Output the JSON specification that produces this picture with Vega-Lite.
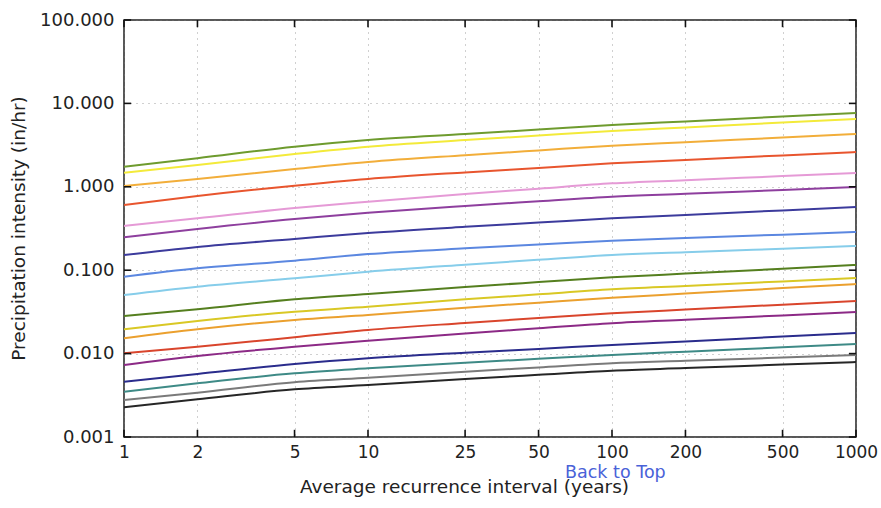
{
  "$schema": "https://vega.github.io/schema/vega-lite/v6.json",
  "width": 732,
  "height": 417,
  "autosize": {"type": "none"},
  "padding": {"left": 124, "top": 20, "right": 25, "bottom": 71},
  "background": "white",
  "config": {
    "view": {"stroke": "#222", "strokeWidth": 1.5},
    "font": "DejaVu Sans",
    "axis": {"labelFont": "DejaVu Sans", "titleFont": "DejaVu Sans"}
  },
  "title": {
    "text": "Back to Top",
    "orient": "bottom",
    "anchor": "start",
    "frame": "group",
    "dx": 441,
    "offset": -32,
    "fontSize": 17.5,
    "fontWeight": "normal",
    "color": "#4a62d8",
    "font": "DejaVu Sans"
  },
  "datasets": {
    "curves": [
      {"d": "5-min", "t": 1, "v": 1.74}, {"d": "5-min", "t": 2, "v": 2.2}, {"d": "5-min", "t": 5, "v": 3.03}, {"d": "5-min", "t": 10, "v": 3.64}, {"d": "5-min", "t": 25, "v": 4.3}, {"d": "5-min", "t": 50, "v": 4.86}, {"d": "5-min", "t": 100, "v": 5.51}, {"d": "5-min", "t": 200, "v": 6.08}, {"d": "5-min", "t": 500, "v": 6.95}, {"d": "5-min", "t": 1000, "v": 7.67},
      {"d": "10-min", "t": 1, "v": 1.476}, {"d": "10-min", "t": 2, "v": 1.826}, {"d": "10-min", "t": 5, "v": 2.474}, {"d": "10-min", "t": 10, "v": 3.026}, {"d": "10-min", "t": 25, "v": 3.631}, {"d": "10-min", "t": 50, "v": 4.124}, {"d": "10-min", "t": 100, "v": 4.669}, {"d": "10-min", "t": 200, "v": 5.157}, {"d": "10-min", "t": 500, "v": 5.886}, {"d": "10-min", "t": 1000, "v": 6.501},
      {"d": "15-min", "t": 1, "v": 1.023}, {"d": "15-min", "t": 2, "v": 1.24}, {"d": "15-min", "t": 5, "v": 1.635}, {"d": "15-min", "t": 10, "v": 1.983}, {"d": "15-min", "t": 25, "v": 2.393}, {"d": "15-min", "t": 50, "v": 2.732}, {"d": "15-min", "t": 100, "v": 3.111}, {"d": "15-min", "t": 200, "v": 3.426}, {"d": "15-min", "t": 500, "v": 3.901}, {"d": "15-min", "t": 1000, "v": 4.297},
      {"d": "30-min", "t": 1, "v": 0.605}, {"d": "30-min", "t": 2, "v": 0.776}, {"d": "30-min", "t": 5, "v": 1.031}, {"d": "30-min", "t": 10, "v": 1.24}, {"d": "30-min", "t": 25, "v": 1.488}, {"d": "30-min", "t": 50, "v": 1.685}, {"d": "30-min", "t": 100, "v": 1.913}, {"d": "30-min", "t": 200, "v": 2.102}, {"d": "30-min", "t": 500, "v": 2.38}, {"d": "30-min", "t": 1000, "v": 2.614},
      {"d": "60-min", "t": 1, "v": 0.339}, {"d": "60-min", "t": 2, "v": 0.419}, {"d": "60-min", "t": 5, "v": 0.557}, {"d": "60-min", "t": 10, "v": 0.663}, {"d": "60-min", "t": 25, "v": 0.82}, {"d": "60-min", "t": 50, "v": 0.949}, {"d": "60-min", "t": 100, "v": 1.102}, {"d": "60-min", "t": 200, "v": 1.2}, {"d": "60-min", "t": 500, "v": 1.344}, {"d": "60-min", "t": 1000, "v": 1.464},
      {"d": "2-hr", "t": 1, "v": 0.248}, {"d": "2-hr", "t": 2, "v": 0.312}, {"d": "2-hr", "t": 5, "v": 0.411}, {"d": "2-hr", "t": 10, "v": 0.489}, {"d": "2-hr", "t": 25, "v": 0.589}, {"d": "2-hr", "t": 50, "v": 0.67}, {"d": "2-hr", "t": 100, "v": 0.761}, {"d": "2-hr", "t": 200, "v": 0.824}, {"d": "2-hr", "t": 500, "v": 0.918}, {"d": "2-hr", "t": 1000, "v": 0.995},
      {"d": "3-hr", "t": 1, "v": 0.152}, {"d": "3-hr", "t": 2, "v": 0.19}, {"d": "3-hr", "t": 5, "v": 0.237}, {"d": "3-hr", "t": 10, "v": 0.279}, {"d": "3-hr", "t": 25, "v": 0.331}, {"d": "3-hr", "t": 50, "v": 0.372}, {"d": "3-hr", "t": 100, "v": 0.419}, {"d": "3-hr", "t": 200, "v": 0.46}, {"d": "3-hr", "t": 500, "v": 0.521}, {"d": "3-hr", "t": 1000, "v": 0.573},
      {"d": "6-hr", "t": 1, "v": 0.0836}, {"d": "6-hr", "t": 2, "v": 0.1054}, {"d": "6-hr", "t": 5, "v": 0.13}, {"d": "6-hr", "t": 10, "v": 0.156}, {"d": "6-hr", "t": 25, "v": 0.183}, {"d": "6-hr", "t": 50, "v": 0.203}, {"d": "6-hr", "t": 100, "v": 0.226}, {"d": "6-hr", "t": 200, "v": 0.243}, {"d": "6-hr", "t": 500, "v": 0.267}, {"d": "6-hr", "t": 1000, "v": 0.287},
      {"d": "12-hr", "t": 1, "v": 0.0504}, {"d": "12-hr", "t": 2, "v": 0.0634}, {"d": "12-hr", "t": 5, "v": 0.08}, {"d": "12-hr", "t": 10, "v": 0.096}, {"d": "12-hr", "t": 25, "v": 0.1164}, {"d": "12-hr", "t": 50, "v": 0.1333}, {"d": "12-hr", "t": 100, "v": 0.152}, {"d": "12-hr", "t": 200, "v": 0.164}, {"d": "12-hr", "t": 500, "v": 0.181}, {"d": "12-hr", "t": 1000, "v": 0.195},
      {"d": "24-hr", "t": 1, "v": 0.0282}, {"d": "24-hr", "t": 2, "v": 0.034}, {"d": "24-hr", "t": 5, "v": 0.0448}, {"d": "24-hr", "t": 10, "v": 0.0518}, {"d": "24-hr", "t": 25, "v": 0.0629}, {"d": "24-hr", "t": 50, "v": 0.072}, {"d": "24-hr", "t": 100, "v": 0.0822}, {"d": "24-hr", "t": 200, "v": 0.0911}, {"d": "24-hr", "t": 500, "v": 0.1042}, {"d": "24-hr", "t": 1000, "v": 0.1155},
      {"d": "2-day", "t": 1, "v": 0.01957}, {"d": "2-day", "t": 2, "v": 0.0246}, {"d": "2-day", "t": 5, "v": 0.0318}, {"d": "2-day", "t": 10, "v": 0.0365}, {"d": "2-day", "t": 25, "v": 0.0447}, {"d": "2-day", "t": 50, "v": 0.0514}, {"d": "2-day", "t": 100, "v": 0.059}, {"d": "2-day", "t": 200, "v": 0.0648}, {"d": "2-day", "t": 500, "v": 0.0734}, {"d": "2-day", "t": 1000, "v": 0.0807},
      {"d": "3-day", "t": 1, "v": 0.01527}, {"d": "3-day", "t": 2, "v": 0.01957}, {"d": "3-day", "t": 5, "v": 0.0253}, {"d": "3-day", "t": 10, "v": 0.029}, {"d": "3-day", "t": 25, "v": 0.0355}, {"d": "3-day", "t": 50, "v": 0.0408}, {"d": "3-day", "t": 100, "v": 0.0468}, {"d": "3-day", "t": 200, "v": 0.0524}, {"d": "3-day", "t": 500, "v": 0.061}, {"d": "3-day", "t": 1000, "v": 0.0683},
      {"d": "4-day", "t": 1, "v": 0.01009}, {"d": "4-day", "t": 2, "v": 0.0121}, {"d": "4-day", "t": 5, "v": 0.01569}, {"d": "4-day", "t": 10, "v": 0.01919}, {"d": "4-day", "t": 25, "v": 0.0233}, {"d": "4-day", "t": 50, "v": 0.0267}, {"d": "4-day", "t": 100, "v": 0.0304}, {"d": "4-day", "t": 200, "v": 0.0337}, {"d": "4-day", "t": 500, "v": 0.0386}, {"d": "4-day", "t": 1000, "v": 0.0427},
      {"d": "7-day", "t": 1, "v": 0.0073}, {"d": "7-day", "t": 2, "v": 0.00936}, {"d": "7-day", "t": 5, "v": 0.0121}, {"d": "7-day", "t": 10, "v": 0.01428}, {"d": "7-day", "t": 25, "v": 0.01747}, {"d": "7-day", "t": 50, "v": 0.0201}, {"d": "7-day", "t": 100, "v": 0.0231}, {"d": "7-day", "t": 200, "v": 0.0254}, {"d": "7-day", "t": 500, "v": 0.0287}, {"d": "7-day", "t": 1000, "v": 0.0315},
      {"d": "10-day", "t": 1, "v": 0.0046}, {"d": "10-day", "t": 2, "v": 0.00569}, {"d": "10-day", "t": 5, "v": 0.0075}, {"d": "10-day", "t": 10, "v": 0.00879}, {"d": "10-day", "t": 25, "v": 0.01025}, {"d": "10-day", "t": 50, "v": 0.01139}, {"d": "10-day", "t": 100, "v": 0.01269}, {"d": "10-day", "t": 200, "v": 0.01401}, {"d": "10-day", "t": 500, "v": 0.016}, {"d": "10-day", "t": 1000, "v": 0.01767},
      {"d": "20-day", "t": 1, "v": 0.00349}, {"d": "20-day", "t": 2, "v": 0.00441}, {"d": "20-day", "t": 5, "v": 0.0058}, {"d": "20-day", "t": 10, "v": 0.00666}, {"d": "20-day", "t": 25, "v": 0.00778}, {"d": "20-day", "t": 50, "v": 0.00865}, {"d": "20-day", "t": 100, "v": 0.00962}, {"d": "20-day", "t": 200, "v": 0.01054}, {"d": "20-day", "t": 500, "v": 0.0119}, {"d": "20-day", "t": 1000, "v": 0.01304},
      {"d": "30-day", "t": 1, "v": 0.00278}, {"d": "30-day", "t": 2, "v": 0.0034}, {"d": "30-day", "t": 5, "v": 0.00453}, {"d": "30-day", "t": 10, "v": 0.00514}, {"d": "30-day", "t": 25, "v": 0.00607}, {"d": "30-day", "t": 50, "v": 0.00682}, {"d": "30-day", "t": 100, "v": 0.00766}, {"d": "30-day", "t": 200, "v": 0.0082}, {"d": "30-day", "t": 500, "v": 0.00898}, {"d": "30-day", "t": 1000, "v": 0.00962},
      {"d": "45-day", "t": 1, "v": 0.00227}, {"d": "45-day", "t": 2, "v": 0.00283}, {"d": "45-day", "t": 5, "v": 0.00373}, {"d": "45-day", "t": 10, "v": 0.0042}, {"d": "45-day", "t": 25, "v": 0.00496}, {"d": "45-day", "t": 50, "v": 0.00557}, {"d": "45-day", "t": 100, "v": 0.00624}, {"d": "45-day", "t": 200, "v": 0.0067}, {"d": "45-day", "t": 500, "v": 0.00738}, {"d": "45-day", "t": 1000, "v": 0.00793}
    ],
    "xticks": [{"t": 1}, {"t": 2}, {"t": 5}, {"t": 10}, {"t": 25}, {"t": 50}, {"t": 100}, {"t": 200}, {"t": 500}, {"t": 1000}],
    "yticks": [{"v": 0.001}, {"v": 0.01}, {"v": 0.1}, {"v": 1}, {"v": 10}, {"v": 100}]
  },
  "layer": [
    {
      "data": {"name": "curves"},
      "mark": {"type": "line", "strokeWidth": 2, "clip": true, "interpolate": "monotone"},
      "encoding": {
        "x": {
          "field": "t", "type": "quantitative",
          "scale": {"type": "log", "domain": [1, 1000]},
          "axis": {
            "orient": "bottom",
            "values": [1, 2, 5, 10, 25, 50, 100, 200, 500, 1000],
            "format": "d",
            "title": "Average recurrence interval (years)",
            "grid": true, "gridDash": [1, 5], "gridColor": "#777", "gridOpacity": 0.7,
            "domain": false,
            "ticks": false,
            "labelFontSize": 17, "labelColor": "#222", "labelPadding": 20,
            "labelBaseline": "alphabetic", "labelFlush": false, "labelOverlap": false,
            "titleFontSize": 18.5, "titleFontWeight": "normal", "titleColor": "#222",
            "titleX": 340, "titleY": 55, "titleBaseline": "alphabetic", "titleAlign": "center"
          }
        },
        "y": {
          "field": "v", "type": "quantitative",
          "scale": {"type": "log", "domain": [0.001, 100]},
          "axis": {
            "orient": "left",
            "values": [0.001, 0.01, 0.1, 1, 10, 100],
            "format": ".3f",
            "title": "Precipitation intensity (in/hr)",
            "grid": true, "gridDash": [1, 5], "gridColor": "#777", "gridOpacity": 0.7,
            "domain": false,
            "ticks": false,
            "labelFontSize": 18, "labelColor": "#222", "labelPadding": 10,
            "labelFlush": false, "labelOverlap": false,
            "titleFontSize": 18.5, "titleFontWeight": "normal", "titleColor": "#222",
            "titleX": -106, "titleY": 208, "titleBaseline": "middle", "titleAngle": -90, "titleAlign": "center"
          }
        },
        "color": {
          "field": "d", "type": "nominal", "legend": null,
          "scale": {
            "domain": ["5-min", "10-min", "15-min", "30-min", "60-min", "2-hr", "3-hr", "6-hr", "12-hr", "24-hr", "2-day", "3-day", "4-day", "7-day", "10-day", "20-day", "30-day", "45-day"],
            "range": ["#6e9b2e", "#f3ea3a", "#f2ae3a", "#e8552e", "#e59ad6", "#8e3f9e", "#3c3b9c", "#5b87e0", "#86cdea", "#557f1f", "#d9c825", "#eba02e", "#d9452c", "#8c2a86", "#2a2c8c", "#3e8a86", "#7a7a7a", "#262626"]
          }
        }
      }
    },
    {
      "data": {"name": "xticks"},
      "mark": {"type": "rule", "strokeWidth": 1.6, "color": "#111", "opacity": 1},
      "encoding": {
        "x": {"field": "t", "type": "quantitative"},
        "y": {"datum": 0.001, "type": "quantitative"},
        "y2": {"datum": 0.00122}
      }
    },
    {
      "data": {"name": "xticks"},
      "mark": {"type": "rule", "strokeWidth": 1.6, "color": "#111", "opacity": 1},
      "encoding": {
        "x": {"field": "t", "type": "quantitative"},
        "y": {"datum": 100, "type": "quantitative"},
        "y2": {"datum": 82}
      }
    },
    {
      "data": {"name": "yticks"},
      "mark": {"type": "rule", "strokeWidth": 1.6, "color": "#111", "opacity": 1},
      "encoding": {
        "y": {"field": "v", "type": "quantitative"},
        "x": {"datum": 1, "type": "quantitative"},
        "x2": {"datum": 1.07}
      }
    },
    {
      "data": {"name": "yticks"},
      "mark": {"type": "rule", "strokeWidth": 1.6, "color": "#111", "opacity": 1},
      "encoding": {
        "y": {"field": "v", "type": "quantitative"},
        "x": {"datum": 1000, "type": "quantitative"},
        "x2": {"datum": 935}
      }
    }
  ]
}
